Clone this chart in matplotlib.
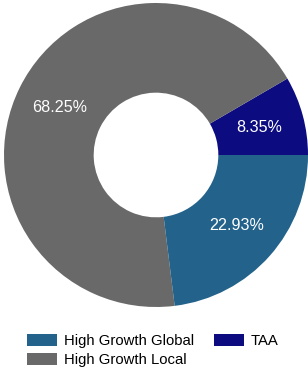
import matplotlib.pyplot as plt
import numpy as np

plt.rcParams['font.family'] = ['Liberation Sans', 'DejaVu Sans']

labels = ['TAA', 'High Growth Local', 'High Growth Global']
values = [8.35, 68.25, 22.93]
colors = ['#0c0c80', '#696969', '#23628a']

W, H = 308, 372
fig = plt.figure(figsize=(W / 100, H / 100), dpi=100)

# pie axes placed in pixel units: centre (156, 155) from top, radius 152
cx, cy, r = 156, 155, 152
ax = fig.add_axes([(cx - r) / W, (H - cy - r) / H, 2 * r / W, 2 * r / H])
wedges, texts = ax.pie(values, colors=colors, startangle=0, counterclock=True,
                       radius=1, wedgeprops=dict(width=0.59, linewidth=0))
for w, v in zip(wedges, values):
    ang = np.deg2rad((w.theta1 + w.theta2) / 2)
    ax.text(0.705 * np.cos(ang), 0.705 * np.sin(ang), f'{v:.2f}%',
            ha='center', va='center', color='white', fontsize=11.6)
ax.set_xlim(-1, 1)
ax.set_ylim(-1, 1)
ax.axis('off')

# legend order: Global, Local (col 1), TAA (col 2)
order = [2, 1, 0]
fig.legend([wedges[i] for i in order], [labels[i] for i in order],
           loc='upper left', bbox_to_anchor=(27 / W, (H - 334) / H),
           ncol=2, frameon=False, fontsize=10.7, borderpad=0, borderaxespad=0,
           handlelength=2.0, handleheight=0.8, handletextpad=0.47,
           columnspacing=1.35, labelspacing=0.35)

fig.savefig('out.png', dpi=100)
